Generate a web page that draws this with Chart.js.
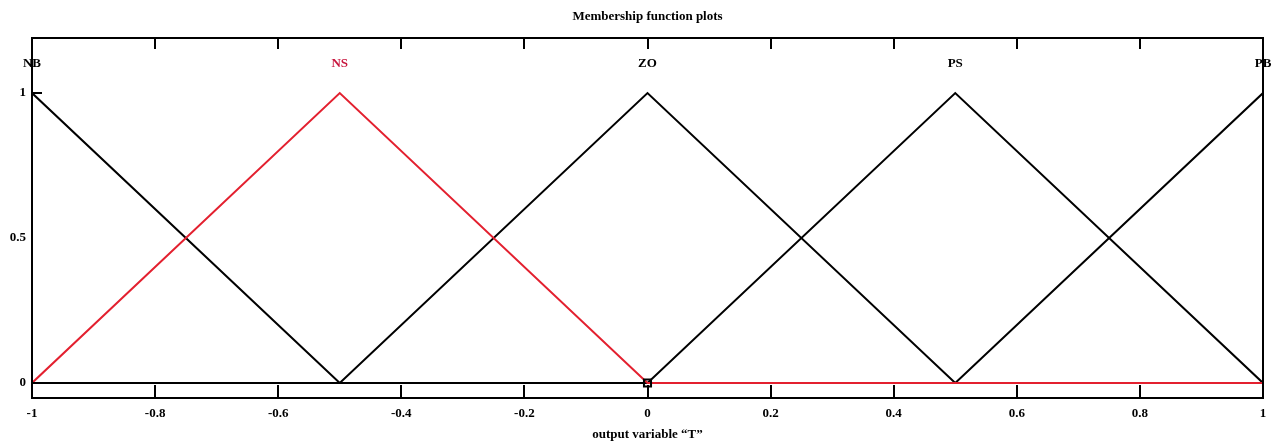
<!DOCTYPE html>
<html>
<head>
<meta charset="utf-8">
<script src="https://cdn.jsdelivr.net/npm/chart.js@4/dist/chart.umd.min.js"></script>
<style>
  html, body { margin: 0; padding: 0; background: #ffffff; }
  #wrap { width: 1279px; height: 444px; }
</style>
</head>
<body>
<div id="wrap"><canvas id="c" width="1279" height="444"></canvas></div>
<script>
// Membership functions of the output variable "T" (triangular, on [-1, 1])
const mfNames = ['NB', 'NS', 'ZO', 'PS', 'PB'];
const mfPeaks = [-1, -0.5, 0, 0.5, 1];
const NB = [{x: -1, y: 1}, {x: -0.5, y: 0}, {x: 1, y: 0}];
const NS = [{x: -1, y: 0}, {x: -0.5, y: 1}, {x: 0, y: 0}, {x: 1, y: 0}];
const ZO = [{x: -1, y: 0}, {x: -0.5, y: 0}, {x: 0, y: 1}, {x: 0.5, y: 0}, {x: 1, y: 0}];
const PS = [{x: -1, y: 0}, {x: 0, y: 0}, {x: 0.5, y: 1}, {x: 1, y: 0}];
const PB = [{x: -1, y: 0}, {x: 0.5, y: 0}, {x: 1, y: 1}];
const cursorPoint = [{x: 0, y: 0}];
const xTicks = [-1, -0.8, -0.6, -0.4, -0.2, 0, 0.2, 0.4, 0.6, 0.8, 1];
const yTicks = [0, 0.5, 1];
const yTickMarks = [0, 1];
const selectedIndex = 1;

const FONT = '"Liberation Serif", "Times New Roman", serif';
const RED = '#e3202f';

function line(data, color) {
  return { data, showLine: true, borderColor: color, borderWidth: 2,
           pointRadius: 0, fill: false, tension: 0 };
}

const decor = {
  id: 'decor',
  afterDatasetsDraw(chart) {
    const ctx = chart.ctx, a = chart.chartArea;
    const xs = chart.scales.x, ys = chart.scales.y;
    ctx.save();
    ctx.strokeStyle = '#000';
    ctx.lineWidth = 2;
    // frame
    ctx.strokeRect(a.left, a.top, a.right - a.left, a.bottom - a.top);
    // inward x ticks, top and bottom
    xTicks.forEach(v => {
      const px = Math.round(xs.getPixelForValue(v));
      ctx.beginPath();
      ctx.moveTo(px, a.bottom); ctx.lineTo(px, a.bottom - 13);
      ctx.moveTo(px, a.top); ctx.lineTo(px, a.top + 11);
      ctx.stroke();
    });
    // inward y ticks on the left
    yTickMarks.forEach(v => {
      const py = Math.round(ys.getPixelForValue(v));
      ctx.beginPath();
      ctx.moveTo(a.left, py); ctx.lineTo(a.left + 10, py);
      ctx.stroke();
    });
    // MF names above each peak
    ctx.font = 'bold 13px ' + FONT;
    ctx.textAlign = 'center';
    ctx.textBaseline = 'middle';
    mfNames.forEach((n, i) => {
      ctx.fillStyle = i === selectedIndex ? '#c8163e' : '#000';
      ctx.fillText(n, xs.getPixelForValue(mfPeaks[i]), ys.getPixelForValue(1.1));
    });
    // title and axis label
    ctx.fillStyle = '#000';
    ctx.font = 'bold 13px ' + FONT;
    ctx.fillText('Membership function plots', (a.left + a.right) / 2, 17);
    ctx.fillText('output variable \u201cT\u201d', (a.left + a.right) / 2, 435);
    ctx.restore();
  }
};

// Chart.js paints dataset 0 last, so the cursor and the selected MF come first
new Chart(document.getElementById('c'), {
  type: 'scatter',
  data: {
    datasets: [
      { data: cursorPoint, pointStyle: 'rect', pointRadius: 5,
        pointBorderColor: '#000', pointBackgroundColor: 'rgba(0,0,0,0)',
        pointBorderWidth: 2, showLine: false },
      line(NS, RED),
      line(NB, '#000'),
      line(ZO, '#000'),
      line(PS, '#000'),
      line(PB, '#000')
    ]
  },
  options: {
    responsive: false,
    animation: false,
    layout: { padding: { top: 38, right: 16, left: 0, bottom: 0 } },
    plugins: { legend: { display: false }, tooltip: { enabled: false } },
    scales: {
      x: {
        type: 'linear', min: -1, max: 1,
        afterBuildTicks: s => { s.ticks = xTicks.map(v => ({ value: v })); },
        afterFit: s => { s.height = 46; },
        grid: { display: false, drawTicks: false },
        border: { display: false },
        ticks: { color: '#000', font: { family: FONT, size: 13, weight: 'bold' },
                 padding: 8, maxRotation: 0, autoSkip: false,
                 callback: v => String(Math.round(v * 10) / 10) }
      },
      y: {
        type: 'linear', min: -0.052, max: 1.19,
        afterBuildTicks: s => { s.ticks = yTicks.map(v => ({ value: v })); },
        afterFit: s => { s.width = 32; },
        grid: { display: false, drawTicks: false },
        border: { display: false },
        ticks: { color: '#000', font: { family: FONT, size: 13, weight: 'bold' },
                 padding: 6, callback: v => String(v) }
      }
    }
  },
  plugins: [decor]
});
</script>
</body>
</html>
